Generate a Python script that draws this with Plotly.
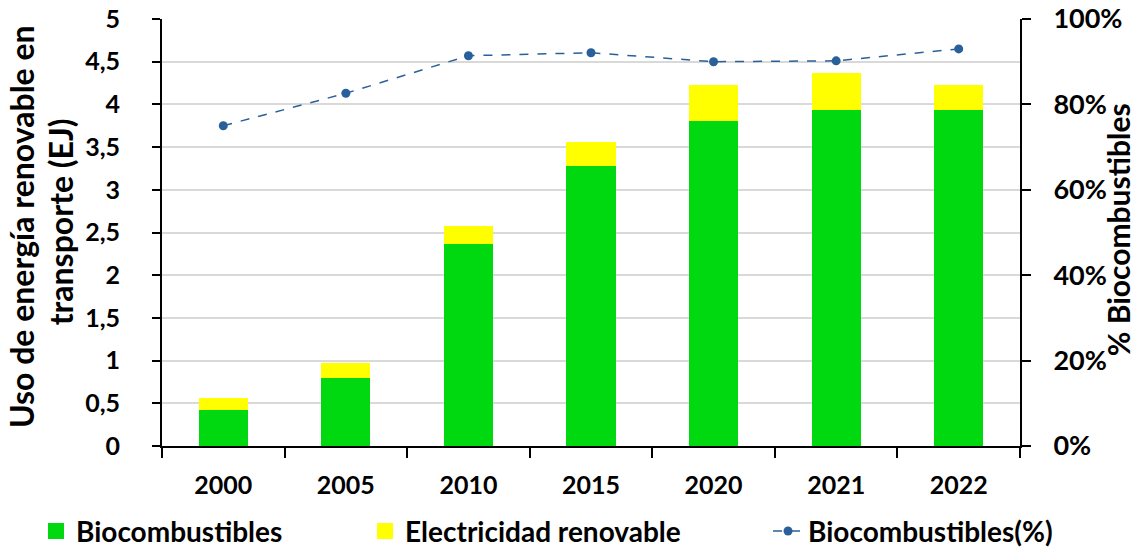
import plotly.graph_objects as go

# Renewable energy use in transport (EJ) and biofuel share
years = ["2000", "2005", "2010", "2015", "2020", "2021", "2022"]
biofuels_ej = [0.42, 0.80, 2.37, 3.28, 3.81, 3.93, 3.93]
renewable_elec_ej = [0.14, 0.17, 0.21, 0.28, 0.42, 0.44, 0.30]
biofuel_share = [0.75, 0.826, 0.914, 0.921, 0.900, 0.902, 0.930]

left_ticks = [0, 0.5, 1, 1.5, 2, 2.5, 3, 3.5, 4, 4.5, 5]
left_tick_text = ["0", "0,5", "1", "1,5", "2", "2,5", "3", "3,5", "4", "4,5", "5"]
right_ticks = [0, 0.2, 0.4, 0.6, 0.8, 1.0]
right_tick_text = ["0%", "20%", "40%", "60%", "80%", "100%"]

GREEN = "#00D90F"
YELLOW = "#FFFF00"
BLUE = "#2A6099"
FONT = "Lato"


def bold(size):
    return dict(family=FONT, size=size, color="black", weight="bold")


fig = go.Figure()
fig.add_trace(go.Bar(
    x=years, y=biofuels_ej, name="Biocombustibles",
    marker=dict(color=GREEN, line=dict(width=0)), showlegend=False,
))
fig.add_trace(go.Bar(
    x=years, y=renewable_elec_ej, name="Electricidad renovable",
    marker=dict(color=YELLOW, line=dict(width=0)), showlegend=False,
))
fig.add_trace(go.Scatter(
    x=years, y=biofuel_share, name="Biocombustibles(%)", yaxis="y2",
    mode="lines+markers",
    line=dict(color=BLUE, width=1.5, dash="dash"),
    marker=dict(color=BLUE, size=9), legend="legend3",
))

# Larger square swatches for the bar series in the legend
fig.add_trace(go.Scatter(
    x=[None], y=[None], mode="markers", name="Biocombustibles",
    marker=dict(symbol="square", size=16, color=GREEN), legend="legend",
))
fig.add_trace(go.Scatter(
    x=[None], y=[None], mode="markers", name="Electricidad renovable",
    marker=dict(symbol="square", size=16, color=YELLOW), legend="legend2",
))

legend_common = dict(
    yref="container", xref="container", y=0.034,
    xanchor="left", yanchor="middle",
    font=bold(28), bgcolor="rgba(0,0,0,0)", itemsizing="trace",
)

fig.update_layout(
    width=1139, height=550,
    margin=dict(l=162, r=119, t=19, b=104, autoexpand=False),
    plot_bgcolor="white", paper_bgcolor="white",
    barmode="stack", bargap=0.6,
    font=bold(25),
    showlegend=True,
    xaxis=dict(
        type="category", tickson="boundaries",
        showline=True, linecolor="black", linewidth=2,
        ticks="outside", ticklen=10, tickwidth=2, tickcolor="black",
        tickfont=bold(25), showgrid=False, ticklabelstandoff=16,
    ),
    yaxis=dict(
        range=[0, 5], tickvals=left_ticks, ticktext=left_tick_text,
        showline=True, linecolor="black", linewidth=2,
        ticks="outside", ticklen=8, tickwidth=2, tickcolor="black",
        showgrid=True, gridcolor="#D9D9D9", gridwidth=1.5,
        tickfont=bold(25), zeroline=False, ticklabelstandoff=27,
    ),
    yaxis2=dict(
        overlaying="y", side="right", range=[0, 1],
        tickvals=right_ticks, ticktext=right_tick_text,
        showline=True, linecolor="black", linewidth=2,
        ticks="outside", ticklen=9, tickwidth=2, tickcolor="black",
        showgrid=False, zeroline=False, tickfont=bold(27),
        ticklabelstandoff=17,
    ),
    legend=dict(x=0.0316, **legend_common),
    legend2=dict(x=0.3205, **legend_common),
    legend3=dict(x=0.6743, **legend_common),
    annotations=[
        dict(text="Uso de energía renovable en",
             xref="paper", yref="paper", x=-0.163, y=0.513,
             xanchor="center", yanchor="middle", textangle=-90,
             showarrow=False, font=bold(32)),
        dict(text="transporte (EJ)",
             xref="paper", yref="paper", x=-0.119, y=0.526,
             xanchor="center", yanchor="middle", textangle=-90,
             showarrow=False, font=bold(32)),
        dict(text="% Biocombustibles",
             xref="paper", yref="paper", x=1.1145, y=0.506,
             xanchor="center", yanchor="middle", textangle=-90,
             showarrow=False, font=bold(30)),
    ],
)

fig.write_html("out.html")
